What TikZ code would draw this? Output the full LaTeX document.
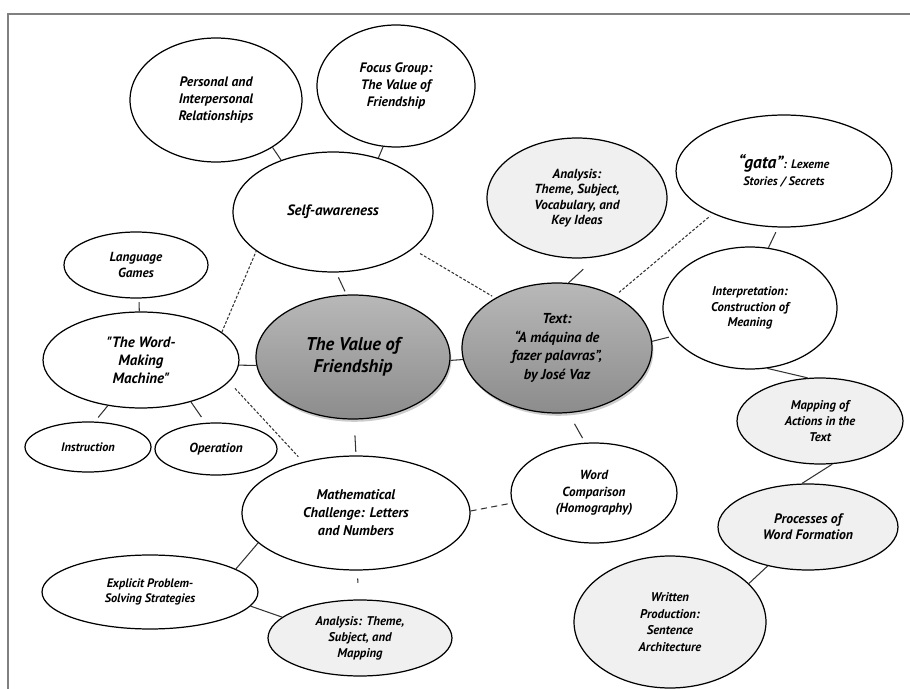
\documentclass[tikz,border=0pt]{standalone}
\usepackage{fontspec}
\setmainfont{PT Sans}
\usetikzlibrary{shapes.geometric,shadows}
\definecolor{hubtop}{HTML}{B8B8B8}
\definecolor{hubbot}{HTML}{8C8C8C}
\definecolor{paleleaf}{HTML}{F0F0F0}
\definecolor{framegray}{HTML}{808080}
\definecolor{linkgray}{HTML}{333333}

\begin{document}
\begin{tikzpicture}[x=0.02cm,y=-0.02cm,
	bubble/.style={ellipse,draw=black,line width=0.7pt,fill=white,inner sep=0pt,align=center},
	pale/.style={bubble,fill=paleleaf},
	hub/.style={bubble,top color=hubtop,bottom color=hubbot,drop shadow={opacity=0.4,shadow xshift=0.8pt,shadow yshift=-1.6pt}},
	fs/.style 2 args={font=\fontsize{#1}{#2}\selectfont\bfseries\itshape},
	link/.style={draw=linkgray,line width=0.6pt},
	dotlink/.style={link,dash pattern=on 1.6pt off 1pt},
	dashlink/.style={link,dash pattern=on 3.5pt off 2.5pt}]
	\useasboundingbox (0,0) rectangle (910,689);
	\draw [framegray,line width=1.4pt] (910,14) -- (8,14) -- (8,689);
	\node [bubble,fs={7.8}{9.5},minimum width=3.44cm,minimum height=2.48cm] (pers) at (216,100) {Personal and\\Interpersonal\\Relationships};
	\node [bubble,fs={7.8}{9.5},minimum width=3.16cm,minimum height=2.44cm] (focus) at (396,86) {Focus Group:\\The Value of\\Friendship};
	\node [bubble,fs={8.5}{10},minimum width=4cm,minimum height=2.4cm] (self) at (333,212) {Self-awareness};
	\node [pale,fs={7.5}{8.8},minimum width=3.6cm,minimum height=2.4cm] (anakey) at (577,198) {Analysis:\\Theme, Subject,\\Vocabulary, and\\Key Ideas};
	\node [bubble,fs={7}{10},minimum width=4.32cm,minimum height=2.24cm] (gata) at (784,171) {{\fontsize{10}{10}\selectfont “gata”}: Lexeme\\Stories / Secrets};
	\node [bubble,fs={7.5}{8.6},minimum width=2.88cm,minimum height=1.32cm] (lang) at (136,265) {Language\\Games};
	\node [bubble,fs={8.5}{10.3},minimum width=3.92cm,minimum height=1.92cm] (machine) at (141,360) {\textquotedbl The Word-\\Making\\Machine\textquotedbl};
	\node [bubble,fs={7}{8},minimum width=2.52cm,minimum height=1cm] (instr) at (88,447) {Instruction};
	\node [bubble,fs={7.5}{8},minimum width=2.44cm,minimum height=1.04cm] (oper) at (216,449) {Operation};
	\node [hub,fs={10.5}{12.5},minimum width=3.88cm,minimum height=2.48cm] (value) at (353,357) {The Value of\\Friendship};
	\node [hub,fs={8.2}{10.5},minimum width=3.8cm,minimum height=2.6cm] (txt) at (557,348) {Text:\\“A máquina de\\fazer palavras”,\\by José Vaz};
	\node [bubble,fs={7.2}{9},minimum width=3.48cm,minimum height=2.44cm] (interp) at (750,308) {Interpretation:\\Construction of\\Meaning};
	\node [pale,fs={7.2}{9.2},minimum width=3.32cm,minimum height=1.72cm] (mapact) at (820,421) {Mapping of\\Actions in the\\Text};
	\node [pale,fs={7.8}{9.1},minimum width=3.6cm,minimum height=1.72cm] (proc) at (808,527) {Processes of\\Word Formation};
	\node [pale,fs={7.2}{9.5},minimum width=3.84cm,minimum height=2.64cm] (written) at (670,622) {Written\\Production:\\Sentence\\Architecture};
	\node [bubble,fs={7.5}{9.5},minimum width=3.32cm,minimum height=2cm] (compare) at (594,493) {Word\\Comparison\\(Homography)};
	\node [bubble,fs={8}{10.3},minimum width=4.56cm,minimum height=2.28cm] (math) at (356,513) {Mathematical\\Challenge: Letters\\and Numbers};
	\node [bubble,fs={7}{8.1},minimum width=4.32cm,minimum height=1.48cm] (explicit) at (150,592) {Explicit Problem-\\Solving Strategies};
	\node [pale,fs={7.2}{9.1},minimum width=3.68cm,minimum height=1.52cm] (anamap) at (360,638) {Analysis: Theme,\\Subject, and\\Mapping};
	\draw [link] (pers.-40) -- (self.135);
	\draw [link] (focus.-102) -- (self.50);
	\draw [link,shorten <=3pt,shorten >=2pt] (self.-87) -- (value.96);
	\draw [dotlink,shorten <=5pt,shorten >=2pt] (self.-25) -- (txt.141);
	\draw [link,shorten <=10pt] (anakey.-72) -- (txt.80);
	\draw [dotlink,shorten <=3pt,shorten >=2pt] (txt.42) -- (gata.211);
	\draw [link,shorten <=3pt] (gata.-96) -- (interp.73);
	\draw [link,shorten >=2pt] (txt.4) -- (interp.200);
	\draw [link] (interp.-74) -- (mapact.106);
	\draw [link] (mapact.-74) -- (proc.98);
	\draw [link] (proc.224) -- (written.26);
	\draw [link,shorten <=7pt,shorten >=3pt] (txt.-80) -- (compare.100);
	\draw [dashlink] (math.1) -- (compare.187);
	\draw [link,shorten <=9pt,shorten >=2pt] (value.-89) -- (math.90);
	\draw [link] (value.-2) -- (txt.187);
	\draw [link] (machine.-3) -- (value.185);
	\draw [dotlink] (machine.19) -- (self.207);
	\draw [dotlink,shorten <=5pt,shorten >=4pt] (machine.-14) -- (math.136);
	\draw [link,shorten <=2pt] (lang.-85) -- (machine.92);
	\draw [link,shorten >=3pt] (machine.234) -- (instr.75);
	\draw [link,shorten >=4pt] (machine.-40) -- (oper.112);
	\draw [link] (math.197) -- (explicit.15);
	\draw [link] (explicit.-8) -- (anamap.165);
	\draw [link,shorten <=4.5pt,shorten >=9.5pt] (math.-89) -- (anamap.91);
\end{tikzpicture}
\end{document}
